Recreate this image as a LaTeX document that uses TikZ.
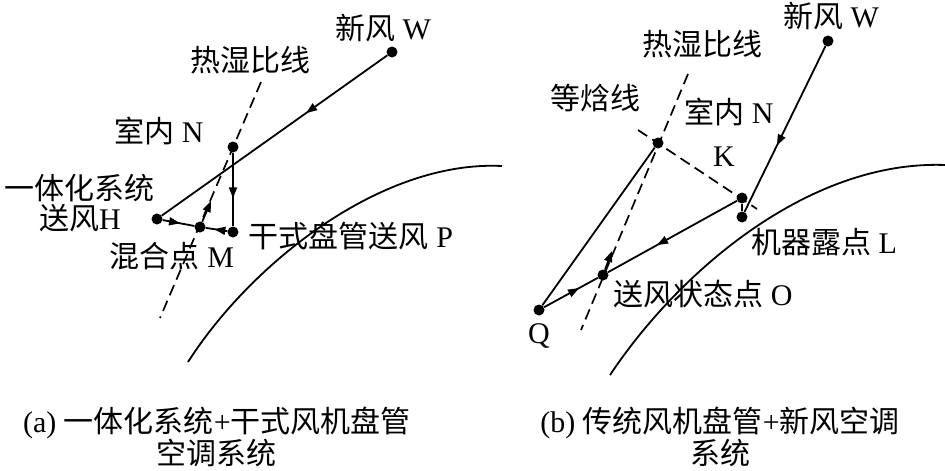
\documentclass[tikz,border=0pt]{standalone}
\usepackage{fontspec}
\setmainfont{Liberation Serif}
\newfontfamily\cjk{Noto Sans CJK SC}
\newcommand\zh[1]{{\cjk #1}}
\usetikzlibrary{arrows.meta,decorations.markings}
\tikzset{
  dot/.style={circle,fill=black,inner sep=0pt,minimum size=11pt},
  lbl/.style={inner sep=0pt,font=\fontsize{30}{30}\selectfont,align=center},
  solidline/.style={line width=1.8pt},
  dashline/.style={line width=1.7pt,dash pattern=on 11pt off 6pt},
  curveline/.style={line width=1.8pt},
  midarrow/.style={postaction={decorate},decoration={markings,
     mark=at position #1 with {\arrow{Triangle[length=11pt,width=8pt]}}}},
  tiparrow/.style={line width=1.8pt,-{Triangle[length=11pt,width=8pt]}}
}
\begin{document}
\begin{tikzpicture}[x=1pt,y=-1pt]
\useasboundingbox (0,0) rectangle (945,471);
% ---------- panel (a) ----------
\coordinate (d1) at (261,82);
\coordinate (d2) at (160,318);
\draw[dashline] (d1) -- (d2);
\draw[curveline] (188,362) .. controls (250,265) and (380,160) .. (502,166);
\node[dot] (W) at (392,52) {};
\node[dot] (N) at (233,147) {};
\node[dot] (H) at (157,219) {};
\node[dot] (M) at (200,227) {};
\node[dot] (P) at (233,232) {};
\coordinate (Mt) at (211,201);
\draw[solidline,midarrow=0.36] (W) -- (H);
\draw[solidline,midarrow=0.62] (N) -- (P);
\draw[solidline,midarrow=0.55] (H) -- (M);
\draw[solidline,midarrow=0.6] (P) -- (M);
\draw[tiparrow] (M) -- (Mt);
\node[lbl] (tW) at (383,28) {\zh{新风}~W};
\node[lbl] (tR) at (250,60) {\zh{热湿比线}};
\node[lbl] (tN) at (159,131) {\zh{室内}~N};
\node[lbl] (tH) at (80,203) {\zh{一体化系统}\\\zh{送风}H};
\node[lbl] (tM) at (172,256) {\zh{混合点}~M};
\node[lbl] (tP) at (351,236) {\zh{干式盘管送风}~P};
\node[lbl] (ca) at (217,437) {(a)~\zh{一体化系统}+\zh{干式风机盘管}\\\zh{空调系统}};
% ---------- panel (b) ----------
\coordinate (e1) at (688,74);
\coordinate (e2) at (581,330);
\coordinate (f1) at (638,130);
\coordinate (f2) at (757,209);
\draw[dashline] (e1) -- (e2);
\draw[dashline] (f1) -- (f2);
\draw[curveline] (610,375) .. controls (680,270) and (810,160) .. (945,165);
\node[dot] (W2) at (828,41) {};
\node[dot] (K) at (658,143) {};
\node[dot] (N2) at (742,198) {};
\node[dot] (L) at (742,217) {};
\node[dot] (O) at (603,275) {};
\node[dot] (Q) at (539,310) {};
\coordinate (Ot) at (612,251);
\draw[solidline,midarrow=0.6] (W2) -- (L);
\draw[solidline] (N2) -- (L);
\draw[solidline,midarrow=0.62] (N2) -- (O);
\draw[solidline,midarrow=0.65] (Q) -- (O);
\draw[solidline] (Q) -- (K);
\draw[tiparrow] (O) -- (Ot);
\node[lbl] (tW2) at (831,16) {\zh{新风}~W};
\node[lbl] (tR2) at (702,44) {\zh{热湿比线}};
\node[lbl] (tE) at (595,98) {\zh{等焓线}};
\node[lbl] (tN2) at (729,112) {\zh{室内}~N};
\node[lbl] (tK) at (724,157) {K};
\node[lbl] (tL) at (824,242) {\zh{机器露点}~L};
\node[lbl] (tO) at (703,294) {\zh{送风状态点}~O};
\node[lbl] (tQ) at (539,336) {Q};
\node[lbl] (cb) at (720,437) {(b)~\zh{传统风机盘管}+\zh{新风空调}\\\zh{系统}};
\end{tikzpicture}
\end{document}
